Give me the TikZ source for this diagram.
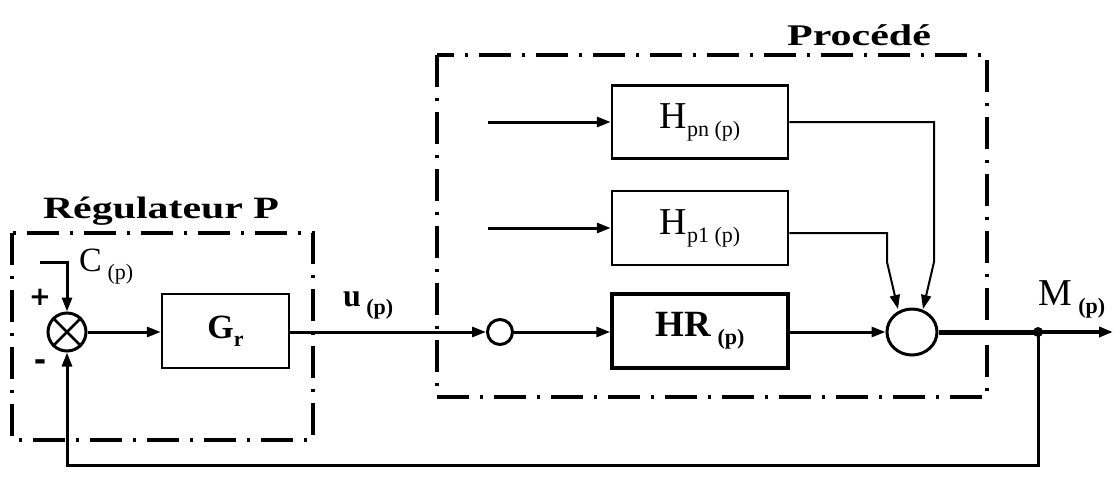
\documentclass[tikz,border=0pt]{standalone}
\usepackage{fontspec}
\setmainfont{Liberation Serif}
\newfontfamily\symfont{DejaVu Sans}
\usetikzlibrary{arrows.meta,shapes.geometric}
\newcommand{\lowsub}[1]{\raisebox{-8pt}{\fontsize{22}{22}\selectfont #1}}
\begin{document}
\begin{tikzpicture}[x=1pt,y=-1pt,
  sig/.style={line width=3pt},
  thin/.style={line width=2pt},
  arr/.style={-{Triangle[length=14pt,width=10pt]}},
  blk/.style={draw, line width=2.5pt, minimum width=176pt, minimum height=74pt, inner sep=0pt},
  ddbox/.style={line width=3.5pt, dash pattern=on 32pt off 11pt on 3pt off 11pt},
  title/.style={inner sep=0pt, anchor=base}]
\useasboundingbox (0,0) rectangle (1120,499);
\fill[white] (0,0) rectangle (1120,499);

% dash-dot frames
\draw[ddbox] (12,233) rectangle (313,440);
\draw[ddbox] (437,55) rectangle (987,397);

% titles
\node[title] (treg) at (161,218) {\scalebox{1.35}[1]{\bfseries\fontsize{31}{31}\selectfont Régulateur P}};
\node[title] (tproc) at (859,45) {\scalebox{1.4}[1]{\bfseries\fontsize{30}{30}\selectfont Procédé}};

% blocks
\node[circle, draw, line width=3pt, minimum size=38pt, inner sep=0pt] (sum1) at (67,332) {};
\draw[line width=2.5pt] (sum1.north east) -- (sum1.south west) (sum1.north west) -- (sum1.south east);
\node[blk, minimum width=127pt] (gr) at (225.5,331) {\fontsize{34}{34}\selectfont\textbf{G}\lowsub{\textbf{r}}};
\node[circle, draw, line width=3pt, minimum size=25pt, inner sep=0pt] (sc) at (500,332) {};
\node[blk, line width=3.5pt] (hr) at (700,331) {\fontsize{37}{37}\selectfont\textbf{HR}\,\lowsub{\textbf{(p)}}};
\node[blk, minimum height=73pt] (hpn) at (700,122) {\fontsize{38}{38}\selectfont H\lowsub{pn (p)}};
\node[blk] (hp1) at (700,228) {\fontsize{38}{38}\selectfont H\lowsub{p1 (p)}};
\node[ellipse, draw, line width=3pt, minimum width=50pt, minimum height=46pt, inner sep=0pt] (sum2) at (912,332) {};

% coordinates
\coordinate (cin) at (40,262);
\coordinate (cc) at (67,262);
\coordinate (inpn) at (488,122);
\coordinate (inp1) at (488,228);
\coordinate (pnA) at (934,122);
\coordinate (pnB) at (934,262);
\coordinate (pnT) at (923,309);
\coordinate (p1A) at (887,233);
\coordinate (p1B) at (887,262);
\coordinate (p1T) at (898,309);
\coordinate (j) at (1038,332);
\coordinate (out) at (1113,332);
\coordinate (fb) at (1038,465);

% connectors
\draw[sig,arr] (cin) -- (cc) -- (sum1.north);
\draw[sig,arr] (sum1) -- (gr.west |- sum1);
\draw[sig,arr] (gr.east |- sc) -- (sc);
\draw[sig,arr] (sc) -- (hr.west |- sc);
\draw[sig,arr] (hr.east |- sum2) -- (sum2);
\draw[sig,arr] (inpn) -- (hpn);
\draw[sig,arr] (inp1) -- (hp1);
\draw[thin,arr] (hpn.east |- pnA) -- (pnA) -- (pnB) -- (pnT);
\draw[thin,arr] (hp1.east |- p1A) -- (p1A) -- (p1B) -- (p1T);
\draw[line width=5pt] (sum2.east) -- (j);
\draw[line width=3.5pt,arr] (j) -- (out);
\draw[sig,arr] (j) -- (fb) -| (sum1.south);
\fill (j) circle (5pt);

% labels
\node[inner sep=0pt, anchor=base west] (lc) at (79,271) {\fontsize{34}{34}\selectfont C\,\lowsub{(p)}};
\node[inner sep=0pt, anchor=base west] (lu) at (343,306) {\fontsize{32}{32}\selectfont\textbf{u}\,\lowsub{\textbf{(p)}}};
\node[inner sep=0pt, anchor=base west] (lm) at (1038,305) {\fontsize{38}{38}\selectfont M\,\lowsub{\textbf{(p)}}};
\node[inner sep=0pt] (lplus) at (40,297) {\symfont\bfseries\fontsize{26}{26}\selectfont +};
\node[inner sep=0pt] (lminus) at (40,365) {\symfont\bfseries\fontsize{30}{30}\selectfont -};
\end{tikzpicture}
\end{document}
